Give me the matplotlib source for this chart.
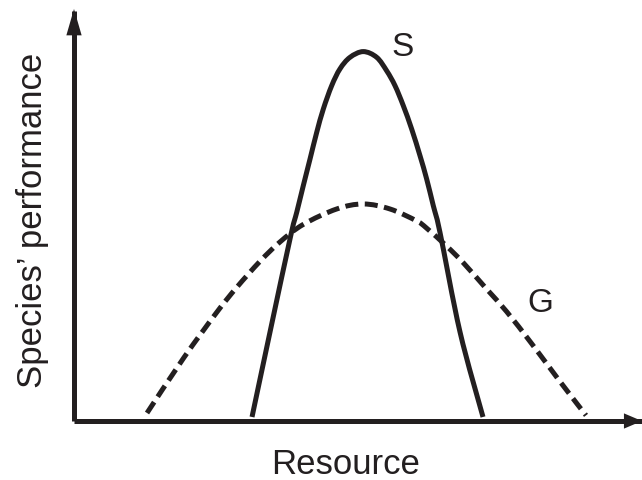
import matplotlib
matplotlib.use("Agg")
import matplotlib.pyplot as plt
from matplotlib.path import Path
from matplotlib.patches import PathPatch

# Curve S (specialist): resource vs performance
s_resource = [31.45, 34.63, 38.29, 39.35, 40.51, 41.70, 42.88, 44.05, 45.53, 47.00,
              48.76, 51.11, 53.48, 55.25, 56.71, 58.18, 59.66, 61.13, 62.31, 63.48,
              64.66, 68.20, 72.26]
s_perf = [0.98, 21.7, 45.2, 50.9, 57.4, 63.9, 70.4, 76.1, 81.8, 85.9,
          88.7, 90.1, 88.7, 85.4, 81.8, 76.9, 71.2, 64.7, 59.0, 52.5,
          46.0, 21.7, 0.98]

# Curve G (generalist)
g_resource = [12.90, 19.43, 25.21, 28.75, 32.86, 36.40, 40.51, 46.41, 51.11,
              55.83, 60.55, 62.31, 65.85, 68.78, 72.91, 76.45, 80.92, 85.87, 90.46]
g_perf = [1.95, 15.49, 26.49, 32.59, 38.95, 43.68, 47.95, 51.71, 52.93,
          51.71, 48.78, 47.02, 42.63, 38.59, 32.17, 26.66, 18.76, 9.61, 1.37]

ink = "#231f20"
font = "Liberation Sans"


def smooth_path(xs, ys):
    """Catmull-Rom spline through the given points, as a cubic Bezier Path."""
    pts = list(zip(xs, ys))
    ext = [pts[0]] + pts + [pts[-1]]
    verts = [pts[0]]
    codes = [Path.MOVETO]
    for i in range(1, len(ext) - 2):
        p0, p1, p2, p3 = ext[i - 1], ext[i], ext[i + 1], ext[i + 2]
        c1 = (p1[0] + (p2[0] - p0[0]) / 6, p1[1] + (p2[1] - p0[1]) / 6)
        c2 = (p2[0] - (p3[0] - p1[0]) / 6, p2[1] - (p3[1] - p1[1]) / 6)
        verts += [c1, c2, p2]
        codes += [Path.CURVE4] * 3
    return Path(verts, codes)


fig = plt.figure(figsize=(6.42, 4.81), dpi=100)
ax = fig.add_axes([74 / 642, 59 / 481, 568 / 642, 410 / 481])
ax.set_xlim(0, 100.35)
ax.set_ylim(0, 100)

for side in ("top", "right"):
    ax.spines[side].set_visible(False)
for side in ("left", "bottom"):
    ax.spines[side].set_linewidth(3.6)
    ax.spines[side].set_color(ink)
    ax.spines[side].set_capstyle("butt")
ax.set_xticks([])
ax.set_yticks([])

# arrow heads
ax.annotate("", xy=(100.35, 0), xytext=(96.0, 0), xycoords="data",
            arrowprops=dict(arrowstyle="-|>,head_length=1.3,head_width=0.55",
                            mutation_scale=10, lw=0, fc=ink, ec=ink,
                            shrinkA=0, shrinkB=0),
            annotation_clip=False)
ax.annotate("", xy=(0, 100.5), xytext=(0, 93.0), xycoords="data",
            arrowprops=dict(arrowstyle="-|>,head_length=1.9,head_width=0.55",
                            mutation_scale=10, lw=0, fc=ink, ec=ink,
                            shrinkA=0, shrinkB=0),
            annotation_clip=False)

s_patch = PathPatch(smooth_path(s_resource, s_perf), fill=False, ec=ink, lw=3.6,
                    capstyle="butt", joinstyle="round", clip_on=False, zorder=3)
g_patch = PathPatch(smooth_path(g_resource, g_perf), fill=False, ec=ink, lw=3.6,
                    linestyle=(0, (2.6, 1.3)), capstyle="butt", joinstyle="round",
                    clip_on=False, zorder=3)
ax.add_patch(s_patch)
ax.add_patch(g_patch)

ax.text(58.1, 89.3, "S", fontsize=24, family=font, color=ink,
        ha="center", va="baseline")
ax.text(82.3, 26.9, "G", fontsize=24, family=font, color=ink,
        ha="center", va="baseline")

fig.text(346 / 642, 7 / 481, "Resource", fontsize=25, family=font, color=ink,
         ha="center", va="baseline")
fig.text(32.5 / 642, (481 - 220) / 481, "Species\u2019 performance", fontsize=25,
         family=font, color=ink, rotation=90, ha="center", va="center")

fig.savefig("out.png", dpi=100)
